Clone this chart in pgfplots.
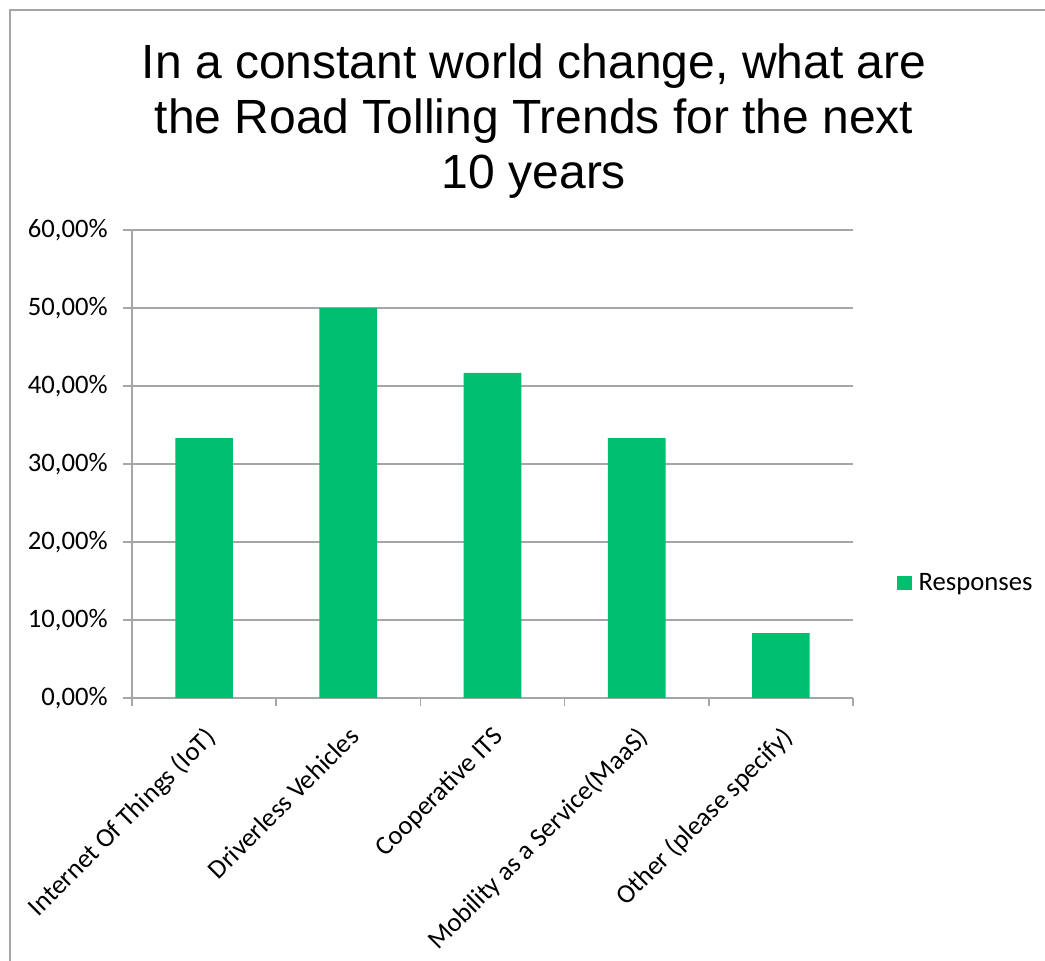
\documentclass[border=0pt]{standalone}
\usepackage{pgfplots}
\pgfplotsset{compat=1.18}
\usepackage{fontspec}
\setmainfont{Carlito}
\newfontfamily\titlefont{Liberation Sans}
\definecolor{barg}{HTML}{00BF6F}
\definecolor{gridc}{HTML}{A6A6A6}
\begin{document}
\begin{tikzpicture}
\useasboundingbox (0,0) rectangle (783.75pt,720pt);
\draw[gridc, line width=1.1pt] (7.5pt,-2pt) -- (7.5pt,712.5pt) -- (790pt,712.5pt);
\node[font=\titlefont\fontsize{36}{41.25}\selectfont, align=center] at (400.5pt,629.25pt) {In a constant world change, what are\\the Road Tolling Trends for the next\\10 years};
\begin{axis}[
  at={(99pt,196.5pt)}, anchor=south west, scale only axis,
  width=540.75pt, height=351pt,
  xmin=-0.5, xmax=4.5, ymin=0, ymax=60,
  ybar, bar width=0.4,
  ytick={0,10,...,60},
  yticklabels={{0,00\%},{10,00\%},{20,00\%},{30,00\%},{40,00\%},{50,00\%},{60,00\%}},
  xtick={0,1,2,3,4},
  xticklabels={Internet Of Things (IoT),Driverless Vehicles,Cooperative ITS,Mobility as a Service(MaaS),Other (please specify)},
  major x tick style={draw=none},
  minor xtick={-0.5,0.5,1.5,2.5,3.5,4.5},
  tick align=outside,
  major tick length=6.75pt, minor tick length=6pt,
  tick style={gridc, line width=1.1pt},
  ymajorgrids, grid style={gridc, line width=1.1pt},
  axis x line*=bottom, axis y line*=left,
  axis line style={-, gridc, line width=1.1pt},
  ticklabel style={font=\fontsize{20}{24}\selectfont},
  yticklabel style={anchor=east, inner sep=0pt, xshift=-11.25pt},
  xticklabel style={rotate=45, anchor=north east, inner sep=0pt, xshift=-10pt, yshift=-9pt},
  legend style={at={(1.061,0.2457)}, anchor=west, draw=none, fill=none,
    font=\fontsize{20}{24}\selectfont, inner sep=0pt,
    nodes={inner sep=0pt}, column sep=0pt},
  legend cell align=left,
]
\addplot[fill=barg, draw=none,
  legend image code/.code={\fill[barg] (0pt,-5.6pt) rectangle (11.25pt,5.6pt); \path (16pt,0pt);}]
  coordinates {(0,33.33) (1,50) (2,41.67) (3,33.33) (4,8.33)};
\addlegendentry{Responses}
\end{axis}
\end{tikzpicture}
\end{document}
